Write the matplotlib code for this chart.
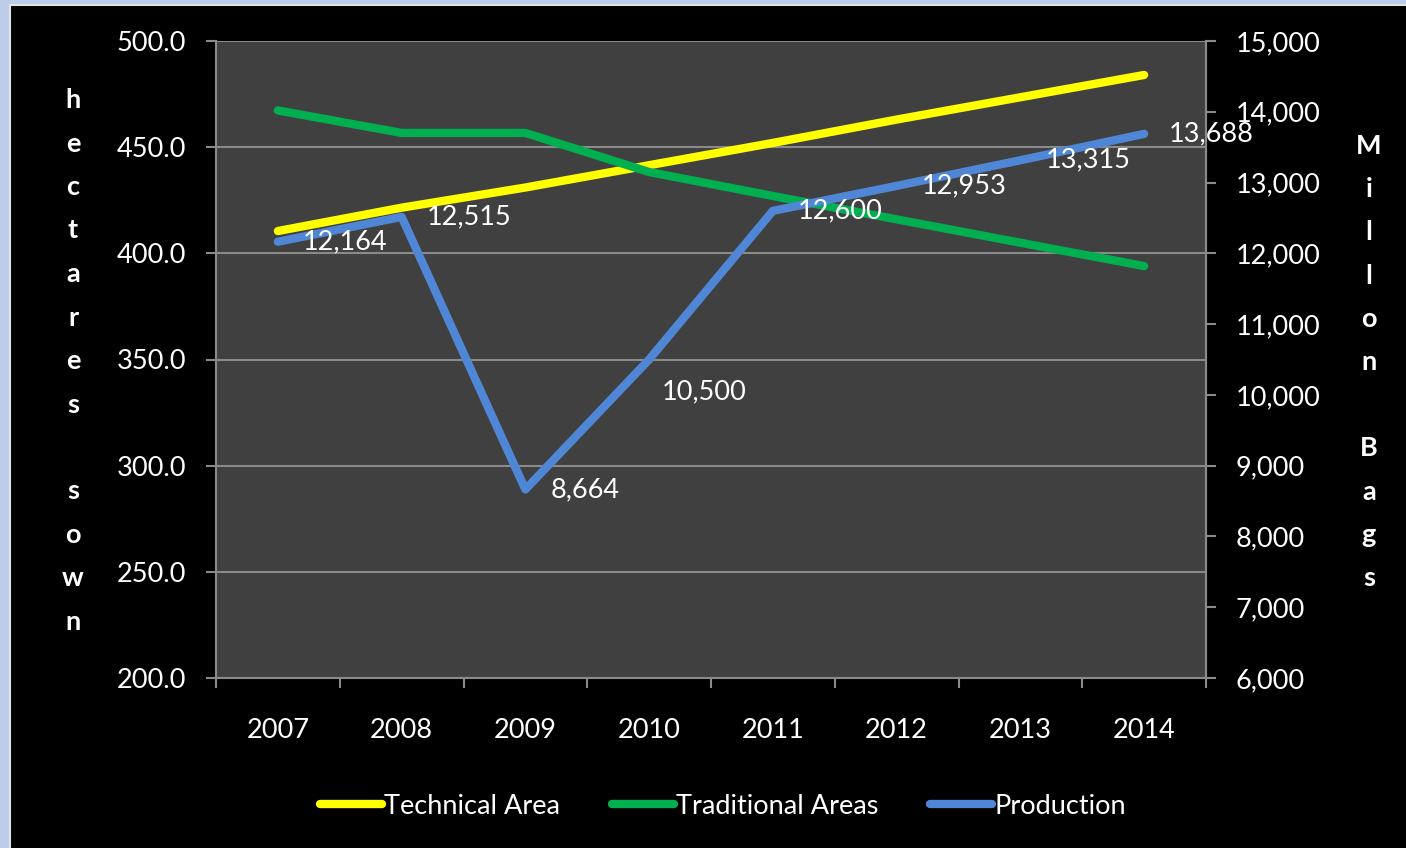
import matplotlib
matplotlib.use("Agg")
import matplotlib.pyplot as plt
from matplotlib.patches import Rectangle
from matplotlib.ticker import MultipleLocator, FuncFormatter, FixedLocator

# ---------------- data ----------------
years = ["2007", "2008", "2009", "2010", "2011", "2012", "2013", "2014"]
technical_area = [410.5, 421.5, 431.0, 441.5, 452.0, 463.0, 473.5, 484.0]
traditional_areas = [467.3, 456.7, 456.7, 438.3, 427.0, 416.0, 405.0, 394.0]
production = [12164, 12515, 8664, 10500, 12600, 12953, 13315, 13688]
series_names = ["Technical Area", "Traditional Areas", "Production"]
left_title = "hectares sown"
right_title = "Millon Bags"

# ---------------- style ----------------
W, H = 1406, 848
FS = 19.5
FONT = ["Lato", "DejaVu Sans"]
plt.rcParams["font.family"] = FONT
GRID = "#8a8a8a"
YELLOW, GREEN, BLUE = "#ffff00", "#00b050", "#4f87d6"
LW = 6.0

fig = plt.figure(figsize=(W / 100, H / 100), dpi=100, facecolor="#bccdea")
fig.add_artist(Rectangle((9.5 / W, -0.05), 1.2, (H - 5) / H + 0.05,
                         transform=fig.transFigure, facecolor="black",
                         edgecolor="#e4e4e4", linewidth=1.5, zorder=0))

ax = fig.add_axes([216 / W, 1 - 678 / H, (1206 - 216) / W, (678 - 41) / H])
ax.set_facecolor("#404040")
ax.set_xlim(-0.5, len(years) - 0.5)
ax.set_ylim(200, 500)
ax.yaxis.set_major_locator(MultipleLocator(50))
ax.yaxis.set_major_formatter(FuncFormatter(lambda v, p: f"{v:.1f}"))
ax.grid(axis="y", color=GRID, linewidth=1.5)
ax.set_axisbelow(True)
ax.spines["top"].set_visible(False)
for s in ["left", "right", "bottom"]:
    ax.spines[s].set_color(GRID)
    ax.spines[s].set_linewidth(1.5)
ax.tick_params(axis="y", colors=GRID, labelcolor="white", length=7.5,
               width=1.5, pad=14, labelsize=FS)
xs = list(range(len(years)))
ax.set_xticks(xs)
ax.set_xticklabels(years)
ax.xaxis.set_minor_locator(FixedLocator([i - 0.5 for i in range(len(years) + 1)]))
ax.tick_params(axis="x", which="major", length=0, pad=29, labelcolor="white",
               labelsize=FS)
ax.tick_params(axis="x", which="minor", length=7.5, width=1.5, colors=GRID)

l1, = ax.plot(xs, technical_area, color=YELLOW, lw=LW, solid_capstyle="round",
              solid_joinstyle="round", label=series_names[0])
l2, = ax.plot(xs, traditional_areas, color=GREEN, lw=LW, solid_capstyle="round",
              solid_joinstyle="round", label=series_names[1])

ax2 = ax.twinx()
ax2.set_ylim(6000, 15000)
ax2.yaxis.set_major_locator(MultipleLocator(1000))
ax2.yaxis.set_major_formatter(FuncFormatter(lambda v, p: f"{v:,.0f}"))
for s in ["top", "left", "bottom"]:
    ax2.spines[s].set_visible(False)
ax2.spines["right"].set_color(GRID)
ax2.spines["right"].set_linewidth(1.5)
ax2.tick_params(axis="y", colors=GRID, labelcolor="white", length=7.5,
                width=1.5, pad=14, labelsize=FS)
l3, = ax2.plot(xs, production, color=BLUE, lw=LW, solid_capstyle="round",
               solid_joinstyle="round", label=series_names[2])

label_offsets = {3: (9, -23)}
for i, v in enumerate(production):
    off = label_offsets.get(i, (18, 0))
    ax2.annotate(f"{v:,}", (i, v), xytext=off, textcoords="offset points",
                 ha="left", va="center", color="white", fontsize=FS,
                 annotation_clip=False)

# vertical stacked axis titles
for j, ch in enumerate(left_title):
    fig.text(73 / W, 1 - (108 + j * 43.5) / H, ch, ha="center", va="baseline",
             color="white", fontsize=FS, fontweight="bold")
for j, ch in enumerate(right_title):
    fig.text(1369 / W, 1 - (154 + j * 43.2) / H, ch, ha="center", va="baseline",
             color="white", fontsize=FS, fontweight="bold")

fig.legend(handles=[l1, l2, l3], loc="center", bbox_to_anchor=(723 / W, 1 - 806 / H),
           ncol=3, frameon=False, handlelength=2.3, handletextpad=0.08,
           columnspacing=1.9, labelcolor="white", fontsize=FS)

fig.savefig("out.png", dpi=100, facecolor=fig.get_facecolor())
